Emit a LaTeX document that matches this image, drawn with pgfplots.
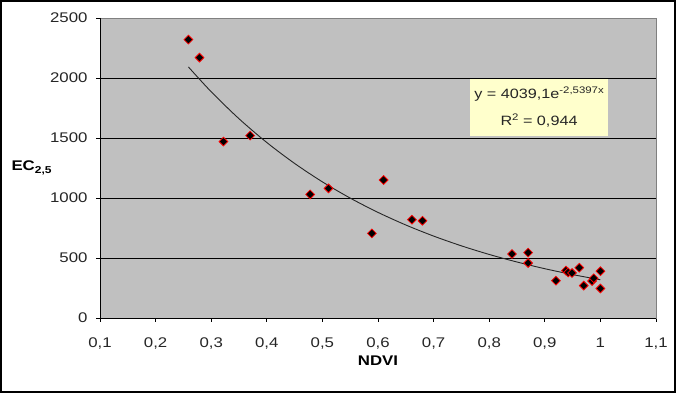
\documentclass[border=0pt]{standalone}
\usepackage{pgfplots}
\pgfplotsset{compat=1.18}
\usepackage{fontspec}
\setmainfont{Liberation Sans}[FakeStretch=1.2]
\definecolor{plotgray}{RGB}{192,192,192}
\definecolor{bordergray}{RGB}{128,128,128}
\definecolor{boxyellow}{RGB}{255,255,204}
\begin{document}
\begin{tikzpicture}
\useasboundingbox (0,0) rectangle (676bp,393bp);
\draw[line width=2bp] (1bp,1bp) rectangle (675bp,392bp);
\begin{axis}[
  at={(100bp,75bp)}, anchor=south west,
  scale only axis, width=556bp, height=300bp,
  xmin=0.1, xmax=1.1, ymin=0, ymax=2500,
  xtick={0.1,0.2,0.3,0.4,0.5,0.6,0.7,0.8,0.9,1,1.1},
  ytick={0,500,1000,1500,2000,2500},
  xtick pos=left, ytick pos=left,
  tick align=outside, major tick length=4bp,
  tick style={black, line width=0.8bp},
  axis line style={draw=bordergray, line width=0.8bp},
  axis background/.style={fill=plotgray},
  clip=false,
  /pgf/number format/assume math mode=true,
  x tick label style={/tikz/yshift=-12bp, /pgf/number format/.cd, use comma, fixed, precision=1},
  y tick label style={/tikz/xshift=-5bp, /pgf/number format/.cd, 1000 sep={}},
  every tick label/.append style={font=\fontsize{14bp}{16bp}\selectfont, text=black!85},
  every axis x label/.style={at={(axis description cs:0.5,0)}, anchor=base, yshift=-47bp, font=\fontsize{14bp}{16bp}\selectfont\bfseries},
  every axis y label/.style={at={(axis description cs:-0.1655,0.5)}, anchor=west, font=\fontsize{14bp}{16bp}\selectfont\bfseries},
  xlabel={NDVI},
  ylabel={EC\raisebox{-3.5bp}{\fontsize{10bp}{10bp}\selectfont 2,5}},
]
\pgfplotsinvokeforeach{500,1000,1500,2000}{
  \draw[black, line width=0.8bp] (axis cs:0.1,#1) -- (axis cs:1.1,#1);
}
\draw[black, line width=0.8bp] (rel axis cs:0,1) -- (rel axis cs:0,0) -- (rel axis cs:1,0);

% exponential trendline y = 4039.1 e^{-2.5397x}, evaluated values
\addplot[black!85, line width=0.9bp, smooth] coordinates {
(0.259,2092.2) (0.30,1885.3) (0.35,1660.5) (0.40,1462.4) (0.45,1288.1)
(0.50,1134.5) (0.55,999.2) (0.60,880.0) (0.65,775.1) (0.70,682.7)
(0.75,601.3) (0.80,529.6) (0.85,466.5) (0.90,410.8) (0.95,361.8) (1.00,318.7)
};

\addplot[only marks, mark=square*, mark size=3.1bp,
  mark options={rotate=45, fill=black, draw=red, line width=0.8bp}] coordinates {
(0.259,2320) (0.279,2170) (0.322,1470) (0.370,1520) (0.478,1030)
(0.511,1080) (0.589,705) (0.610,1150) (0.661,819) (0.680,810)
(0.841,533) (0.870,545) (0.870,458) (0.920,311) (0.938,395)
(0.942,380) (0.949,375) (0.962,419) (0.970,270) (0.985,308)
(0.988,331) (1.000,390) (1.000,246)
};

\node[fill=boxyellow, inner sep=0pt, minimum width=138bp, minimum height=57bp,
  align=center, font=\fontsize{13.5bp}{26.7bp}\selectfont, text=black!85]
  at (axis cs:0.8896,1758)
  {y = 4039,1e\raisebox{5bp}{\fontsize{9.5bp}{10bp}\selectfont -2,5397x}\\R\raisebox{5bp}{\fontsize{9.5bp}{10bp}\selectfont 2} = 0,944};
\end{axis}
\end{tikzpicture}
\end{document}
